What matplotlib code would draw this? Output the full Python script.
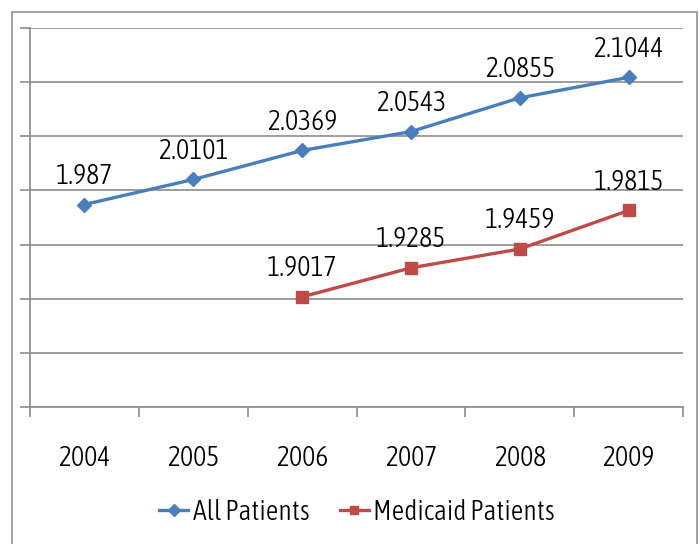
import matplotlib
matplotlib.use("Agg")
import matplotlib.pyplot as plt
from matplotlib.patches import Rectangle
import numpy as np

years = ["2004", "2005", "2006", "2007", "2008", "2009"]
all_patients = [1.987, 2.0101, 2.0369, 2.0543, 2.0855, 2.1044]
medicaid_years = ["2006", "2007", "2008", "2009"]
medicaid_patients = [1.9017, 1.9285, 1.9459, 1.9815]

plt.rcParams['font.family'] = ['Asap Condensed', 'Carlito', 'DejaVu Sans']
plt.rcParams['font.weight'] = 300

fig = plt.figure(figsize=(7.0, 5.44), dpi=100)
ax = fig.add_axes([30/700, 1-407/544, (683-30)/700, (407-28)/544])

# outer chart border
fig.patches.append(Rectangle((12/700, -0.05), (697-12)/700, 1.05 - 12/544,
                             transform=fig.transFigure, fill=False,
                             edgecolor='#9a9a9a', linewidth=1.3))

x_all = np.arange(len(years))
x_med = np.array([years.index(y) for y in medicaid_years])

blue = '#4A7EBB'
red = '#BE4B48'
ax.plot(x_all, all_patients, color=blue, lw=2.4, marker='D', ms=7.5,
        label='All Patients', zorder=3)
ax.plot(x_med, medicaid_patients, color=red, lw=2.4, marker='s', ms=8,
        label='Medicaid Patients', zorder=3)

fs = 20
for xi, v in zip(x_all, all_patients):
    ax.annotate(f"{v:g}", (xi, v), xytext=(0, 15), textcoords='offset points',
                ha='center', va='baseline', fontsize=fs, color='black')
for xi, v in zip(x_med, medicaid_patients):
    ax.annotate(f"{v:g}", (xi, v), xytext=(0, 15), textcoords='offset points',
                ha='center', va='baseline', fontsize=fs, color='black')

ax.set_xlim(-0.5, len(years) - 0.5)
ax.set_ylim(1.8, 2.15)
ax.set_yticks(np.arange(1.8, 2.151, 0.05))
ax.set_yticklabels([])
ax.yaxis.grid(True, color='#8c8c8c', lw=1.2)
ax.set_axisbelow(True)

ax.set_xticks(x_all)
ax.set_xticklabels(years, fontsize=fs)
ax.set_xticks(np.arange(-0.5, len(years)), minor=True)
ax.tick_params(axis='x', which='major', length=0, pad=27)
ax.tick_params(axis='x', which='minor', length=7, color='#8c8c8c', width=1.2)
ax.tick_params(axis='y', length=7, color='#8c8c8c', width=1.2)

for s in ['top', 'right']:
    ax.spines[s].set_visible(False)
for s in ['left', 'bottom']:
    ax.spines[s].set_color('#8c8c8c')
    ax.spines[s].set_linewidth(1.2)

leg = fig.legend(loc='center', bbox_to_anchor=(357/700, 1-512/544), ncol=2,
                 frameon=False, fontsize=fs, handlelength=1.05, handletextpad=0.15,
                 columnspacing=1.1, markerscale=0.8, borderpad=0)

fig.savefig("out.png", dpi=100)
